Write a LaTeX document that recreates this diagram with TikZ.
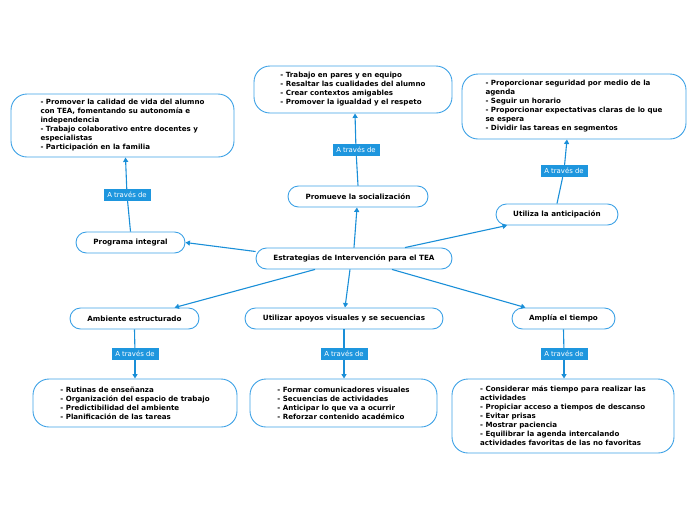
\documentclass[tikz,border=0pt]{standalone}
\usepackage{fontspec}
\setmainfont{DejaVu Sans}
\usetikzlibrary{arrows.meta}
\definecolor{linec}{HTML}{1A8FD8}
\definecolor{borderc}{HTML}{3EA2E6}
\definecolor{labelc}{HTML}{1E96DE}
\tikzset{
  topic/.style={draw=borderc, line width=0.9pt, fill=white, rounded corners=10.5pt,
    minimum height=21pt, font=\fontsize{7.2}{9}\selectfont\bfseries, inner sep=2pt},
  detail/.style={draw=borderc, line width=0.9pt, fill=white, rounded corners=16pt,
    font=\fontsize{7.1}{9}\selectfont\bfseries, align=left, inner sep=2pt},
  via/.style={fill=labelc, text=white, font=\fontsize{6.9}{7}\selectfont,
    minimum width=47pt, minimum height=12pt, inner sep=1pt},
  conn/.style={draw=linec, line width=1.1pt, -{Triangle[width=5pt,length=4.5pt]}},
  plain/.style={draw=linec, line width=1.1pt},
}
\begin{document}
\begin{tikzpicture}[x=1pt,y=-1pt]
\useasboundingbox (0,0) rectangle (696,520);
% topics
\node[topic, minimum width=196pt] (c) at (354,258.5) {Estrategias de Intervención para el TEA};
\node[topic, minimum width=109pt] (pi) at (130.5,242.5) {Programa integral};
\node[topic, minimum width=140pt] (ps) at (358,196.5) {Promueve la socialización};
\node[topic, minimum width=122pt] (ua) at (557,214.5) {Utiliza la anticipación};
\node[topic, minimum width=129pt] (ae) at (134.5,318.5) {Ambiente estructurado};
\node[topic, minimum width=198pt] (av) at (344,318.5) {Utilizar apoyos visuales y se secuencias};
\node[topic, minimum width=103pt] (at) at (563.5,318.5) {Amplía el tiempo};
% details
\node[detail, minimum width=223pt, minimum height=63pt] (d1) at (122.5,125.5) {- Promover la calidad de vida del alumno\\con TEA, fomentando su autonomía e\\independencia\\- Trabajo colaborativo entre docentes y\\especialistas\\- Participación en la familia};
\node[detail, minimum width=198pt, minimum height=47pt] (d2) at (353,89.5) {- Trabajo en pares y en equipo\\- Resaltar las cualidades del alumno\\- Crear contextos amigables\\- Promover la igualdad y el respeto};
\node[detail, minimum width=224pt, minimum height=65pt] (d3) at (574,106.5) {- Proporcionar seguridad por medio de la\\agenda\\- Seguir un horario\\- Proporcionar expectativas claras de lo que\\se espera\\- Dividir las tareas en segmentos};
\node[detail, minimum width=204pt, minimum height=48pt] (d4) at (135,403) {- Rutinas de enseñanza\\- Organización del espacio de trabajo\\- Predictibilidad del ambiente\\- Planificación de las tareas};
\node[detail, minimum width=187pt, minimum height=48pt] (d5) at (343.5,403) {- Formar comunicadores visuales\\- Secuencias de actividades\\- Anticipar lo que va a ocurrir\\- Reforzar contenido académico};
\node[detail, minimum width=222pt, minimum height=74pt] (d6) at (563,416) {- Considerar más tiempo para realizar las\\actividades\\- Propiciar acceso a tiempos de descanso\\- Evitar prisas\\- Mostrar paciencia\\- Equilibrar la agenda intercalando\\actividades favoritas de las no favoritas};
% central connectors
\draw[conn] ([yshift=7pt]c.west) -- (pi.east);
\draw[conn] (c.north) -- ([xshift=-1pt]ps.south);
\draw[conn] ([xshift=51pt]c.north) -- ([xshift=-50pt]ua.south);
\draw[conn] ([xshift=-39pt]c.south) -- ([xshift=40pt]ae.north);
\draw[conn] ([xshift=-4pt]c.south) -- ([xshift=1pt]av.north);
\draw[conn] ([xshift=38pt]c.south) -- ([xshift=-38pt]at.north);
% via labels
\node[via] (v1) at (127,195) {A través de};
\node[via] (v2) at (356,150) {A través de};
\node[via] (v3) at (564,171) {A través de};
\node[via] (v4) at (135,354) {A través de};
\node[via] (v5) at (344,354) {A través de};
\node[via] (v6) at (564,354) {A través de};
% detail connectors
\draw[plain] (pi.north) -- (v1);
\draw[conn] (v1) -- ([xshift=3pt]d1.south);
\draw[plain] (ps.north) -- (v2);
\draw[conn] (v2) -- ([xshift=2pt]d2.south);
\draw[plain] (ua.north) -- (v3);
\draw[conn] (v3) -- ([xshift=-7pt]d3.south);
\draw[plain] (ae.south) -- (v4);
\draw[conn] (v4) -- (v4 |- d4.north);
\draw[plain] (av.south) -- (v5);
\draw[conn] (v5) -- (v5 |- d5.north);
\draw[plain] (at.south) -- (v6);
\draw[conn] (v6) -- (v6 |- d6.north);
\end{tikzpicture}
\end{document}
